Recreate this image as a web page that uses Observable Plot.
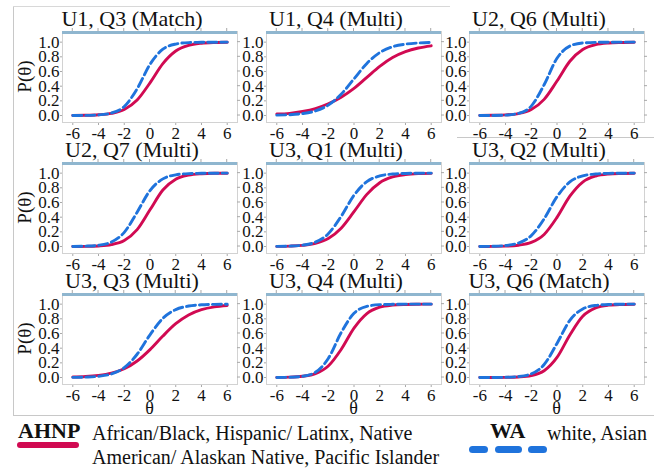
<!DOCTYPE html>
<html>
<head>
<meta charset="utf-8">
<script src="https://cdn.jsdelivr.net/npm/d3@7"></script>
<script src="https://cdn.jsdelivr.net/npm/@observablehq/plot@0.6"></script>
<style>
  html, body { margin: 0; padding: 0; background: #fff; }
  #wrap { position: relative; width: 654px; height: 470px; overflow: hidden; background: #fff;
          font-family: "Liberation Serif", Tinos, "Times New Roman", "DejaVu Serif", serif; color: #111; }
  #wrap svg { position: absolute; }
  .lg { position: absolute; white-space: nowrap; font-size: 20px; line-height: 24px; color: #111; }
  .lgb { font-weight: bold; font-size: 22px; }
  .pill { position: absolute; border-radius: 4px; }
</style>
</head>
<body>
<div id="wrap"></div>
<script>
// ---------- data ----------
const theta = [-6, -5, -4, -3, -2, -1, 0, 1, 2, 3, 4, 5, 6];
const panelTitles = ["U1, Q3 (Match)", "U1, Q4 (Multi)", "U2, Q6 (Multi)",
                     "U2, Q7 (Multi)", "U3, Q1 (Multi)", "U3, Q2 (Multi)",
                     "U3, Q3 (Multi)", "U3, Q4 (Multi)", "U3, Q6 (Match)"];
const xTicks = [-6, -4, -2, 0, 2, 4, 6];
const yTicks = [0, 0.2, 0.4, 0.6, 0.8, 1.0];
const seriesNames = ["AHNP", "WA"];

const ahnpU1Q3 = [0.001, 0.003, 0.010, 0.029, 0.082, 0.211, 0.445, 0.707, 0.879, 0.956, 0.985, 0.995, 0.998];
const waU1Q3   = [0.001, 0.002, 0.008, 0.034, 0.123, 0.364, 0.698, 0.904, 0.974, 0.994, 0.998, 0.999, 1.000];
const ahnpU1Q4 = [0.020, 0.030, 0.055, 0.095, 0.160, 0.250, 0.370, 0.520, 0.670, 0.790, 0.870, 0.920, 0.950];
const waU1Q4   = [0.005, 0.011, 0.027, 0.063, 0.142, 0.290, 0.500, 0.710, 0.858, 0.937, 0.973, 0.989, 0.995];
const ahnpU2Q6 = [0.001, 0.003, 0.009, 0.027, 0.082, 0.220, 0.470, 0.740, 0.900, 0.966, 0.989, 0.996, 0.999];
const waU2Q6   = [0.000, 0.001, 0.006, 0.029, 0.128, 0.420, 0.780, 0.947, 0.989, 0.997, 0.999, 1.000, 1.000];
const ahnpU2Q7 = [0.001, 0.002, 0.008, 0.027, 0.083, 0.230, 0.500, 0.770, 0.917, 0.973, 0.992, 0.998, 0.999];
const waU2Q7   = [0.001, 0.005, 0.017, 0.061, 0.193, 0.468, 0.763, 0.922, 0.977, 0.994, 0.998, 0.999, 1.000];
const ahnpU3Q1 = [0.002, 0.006, 0.016, 0.043, 0.109, 0.250, 0.475, 0.711, 0.870, 0.948, 0.980, 0.993, 0.997];
const waU3Q1   = [0.002, 0.006, 0.019, 0.060, 0.174, 0.410, 0.698, 0.885, 0.962, 0.988, 0.996, 0.999, 1.000];
const ahnpU3Q2 = [0.000, 0.002, 0.005, 0.018, 0.056, 0.165, 0.397, 0.686, 0.879, 0.960, 0.988, 0.996, 0.999];
const waU3Q2   = [0.001, 0.004, 0.014, 0.047, 0.148, 0.378, 0.679, 0.881, 0.963, 0.989, 0.997, 0.999, 1.000];
const ahnpU3Q3 = [0.007, 0.014, 0.030, 0.061, 0.120, 0.225, 0.380, 0.565, 0.733, 0.853, 0.925, 0.963, 0.982];
const waU3Q3   = [0.002, 0.006, 0.017, 0.049, 0.134, 0.317, 0.582, 0.807, 0.926, 0.974, 0.991, 0.997, 0.999];
const ahnpU3Q4 = [0.002, 0.005, 0.017, 0.053, 0.157, 0.382, 0.673, 0.872, 0.958, 0.987, 0.996, 0.999, 1.000];
const waU3Q4   = [0.001, 0.004, 0.017, 0.072, 0.259, 0.611, 0.875, 0.969, 0.993, 0.998, 1.000, 1.000, 1.000];
const ahnpU3Q6 = [0.000, 0.001, 0.002, 0.008, 0.027, 0.093, 0.274, 0.580, 0.835, 0.949, 0.986, 0.996, 0.999];
const waU3Q6   = [0.000, 0.001, 0.003, 0.013, 0.050, 0.177, 0.465, 0.780, 0.935, 0.983, 0.996, 0.999, 1.000];

const ahnpSeries = [ahnpU1Q3, ahnpU1Q4, ahnpU2Q6, ahnpU2Q7, ahnpU3Q1, ahnpU3Q2, ahnpU3Q3, ahnpU3Q4, ahnpU3Q6];
const waSeries   = [waU1Q3, waU1Q4, waU2Q6, waU2Q7, waU3Q1, waU3Q2, waU3Q3, waU3Q4, waU3Q6];

// ---------- styles / layout ----------
const RED = "#d10a52", BLUE = "#1f73dc", BAR = "#8fb6cf", FRAME = "#d2d2d2", TICK = "#a8a8a8";
const FONT = '"Liberation Serif", Tinos, "Times New Roman", "DejaVu Serif", serif';
const colLeft = [62, 266, 469];
const rowTop = [31, 162, 293];
const FW = 175, FH = 91;
const mL = 52, mR = 10, mT = 4, mB = 32;

const wrap = d3.select("#wrap");

// background svg: borders, titles, axis names
const bg = wrap.append("svg").attr("width", 654).attr("height", 470)
  .style("left", "0px").style("top", "0px").attr("font-family", FONT);
bg.append("line").attr("x1", 13.5).attr("x2", 13.5).attr("y1", 6.5).attr("y2", 415.5).attr("stroke", "#c8c8c8");
bg.append("line").attr("x1", 13).attr("x2", 450).attr("y1", 6.5).attr("y2", 6.5).attr("stroke", "#d8d8d8");
bg.append("line").attr("x1", 13).attr("x2", 654).attr("y1", 415.5).attr("y2", 415.5).attr("stroke", "#c8c8c8");
bg.append("line").attr("x1", 457).attr("x2", 654).attr("y1", 137.5).attr("y2", 137.5).attr("stroke", "#c8c8c8");

panelTitles.forEach((t, i) => {
  const r = Math.floor(i / 3), c = i % 3;
  bg.append("text").attr("x", colLeft[c] + 70).attr("y", rowTop[r] - 5)
    .attr("text-anchor", "middle").attr("font-size", 22).attr("fill", "#111").text(t);
});
rowTop.forEach(top => {
  bg.append("text").attr("transform", `translate(31,${top + FH / 2}) rotate(-90)`)
    .attr("text-anchor", "middle").attr("font-size", 19).attr("fill", "#111").text("P(θ)");
});
colLeft.forEach(left => {
  bg.append("text").attr("x", left + FW / 2).attr("y", 414)
    .attr("text-anchor", "middle").attr("font-size", 18).attr("fill", "#111").text("θ");
});

// panels
panelTitles.forEach((t, i) => {
  const r = Math.floor(i / 3), c = i % 3;
  const rows = theta.map((th, k) => ({theta: th, p: ahnpSeries[i][k], group: seriesNames[0]}));
  const rowsW = theta.map((th, k) => ({theta: th, p: waSeries[i][k], group: seriesNames[1]}));

  const svg = Plot.plot({
    width: mL + FW + mR, height: mT + FH + mB,
    marginLeft: mL, marginRight: mR, marginTop: mT, marginBottom: mB,
    style: {background: "transparent", fontFamily: FONT, fontSize: "17px", color: "#111", overflow: "visible"},
    x: {domain: [-6.8, 6.8], ticks: xTicks, tickSize: 3, tickPadding: 1, label: null,
        tickFormat: d => (d < 0 ? "-" + Math.abs(d) : String(d))},
    y: {domain: [-0.095, 1.145], ticks: yTicks, tickSize: 2, tickPadding: 1, label: null,
        tickFormat: d => d.toFixed(1)},
    marks: [
      Plot.frame({stroke: FRAME}),
      Plot.line(rows, {x: "theta", y: "p", stroke: RED, strokeWidth: 2.9, curve: "monotone-x"}),
      Plot.line(rowsW, {x: "theta", y: "p", stroke: BLUE, strokeWidth: 2.9, strokeDasharray: "9,4", curve: "monotone-x"})
    ]
  });
  const s = d3.select(svg);
  s.style("left", (colLeft[c] - mL) + "px").style("top", (rowTop[r] - mT) + "px");
  s.selectAll("text").attr("font-family", FONT);
  s.append("rect").attr("x", mL).attr("y", mT).attr("width", FW).attr("height", 3).attr("fill", BAR);
  s.selectAll('g[aria-label="x-axis"] .tick line, g[aria-label="y-axis"] .tick line, g[aria-label="x-axis tick"] path, g[aria-label="y-axis tick"] path')
    .attr("stroke", TICK);
  s.selectAll('g[aria-label="x-axis"] .domain, g[aria-label="y-axis"] .domain').remove();
  // mirrored ticks (top and right), placed with Plot's own scales
  try {
    const xs = svg.scale("x"), ys = svg.scale("y");
    if (xs && xs.apply && ys && ys.apply) {
      const g = s.append("g").attr("stroke", TICK);
      xTicks.forEach(v => {
        const px = xs.apply(v);
        g.append("line").attr("x1", px).attr("x2", px).attr("y1", mT).attr("y2", mT - 3);
      });
      yTicks.forEach(v => {
        const py = ys.apply(v);
        g.append("line").attr("x1", mL + FW).attr("x2", mL + FW + 3).attr("y1", py).attr("y2", py);
      });
    }
  } catch (e) {}
  wrap.node().appendChild(svg);
});

// ---------- legend (HTML, below the panels) ----------
const legend = [
  {key: seriesNames[0], color: RED, keyLeft: 18, textLeft: 92,
   text: ["African/Black, Hispanic/ Latinx, Native", "American/ Alaskan Native, Pacific Islander"]},
  {key: seriesNames[1], color: BLUE, keyLeft: 490, textLeft: 547, text: ["white, Asian"]}
];
legend.forEach((L, li) => {
  wrap.append("div").attr("class", "lg lgb").style("left", L.keyLeft + "px").style("top", "419px").text(L.key);
  wrap.append("div").attr("class", "lg").style("left", L.textLeft + "px").style("top", "421px")
    .html(L.text.join("<br>"));
  if (li === 0) {
    wrap.append("div").attr("class", "pill").style("left", "17px").style("top", "442px")
      .style("width", "62px").style("height", "6px").style("background", L.color);
  } else {
    [[469, 19], [495, 27], [528, 19]].forEach(([x, w]) => {
      wrap.append("div").attr("class", "pill").style("left", x + "px").style("top", "446px")
        .style("width", w + "px").style("height", "7px").style("background", L.color);
    });
  }
});
</script>
</body>
</html>
